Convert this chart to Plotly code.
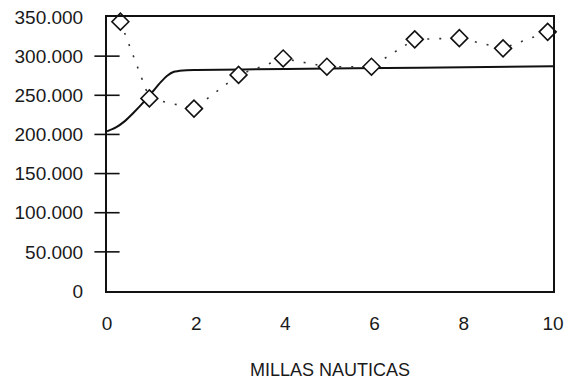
import plotly.graph_objects as go

# Observed values (diamonds, dotted)
obs_x = [0.3, 0.95, 1.95, 2.95, 3.95, 4.93, 5.93, 6.9, 7.9, 8.88, 9.88]
obs_y = [344000, 246000, 233000, 276000, 297000, 286500, 286500, 321500, 323000, 310000, 331000]

# Fitted curve (solid)
fit_x = [0, 0.2, 0.4, 0.6, 0.8, 1.0, 1.2, 1.35, 1.5, 1.7, 2.0, 4, 7, 10]
fit_y = [204000, 209000, 217000, 228000, 240000, 253000, 266500, 275000, 280000, 281800, 282300,
         283500, 285300, 287000]

# Axis ticks
y_ticks = [0, 50000, 100000, 150000, 200000, 250000, 300000, 350000]
y_cross = [50000, 100000, 150000, 200000, 250000, 300000]
x_ticks = [0, 2, 4, 6, 8, 10]

fig = go.Figure()

fig.add_trace(go.Scatter(
    x=fit_x, y=fit_y, mode="lines",
    line=dict(color="#111", width=2, shape="spline", smoothing=0.6),
    hoverinfo="skip", showlegend=False,
))

fig.add_trace(go.Scatter(
    x=obs_x, y=obs_y, mode="lines+markers",
    line=dict(color="#333", width=1.6, dash="2px,10px"),
    marker=dict(symbol="diamond", size=13, color="white",
                line=dict(color="#111", width=1.6)),
    cliponaxis=False, showlegend=False,
))

# Cross-shaped tick marks on the left axis
fig.add_trace(go.Scatter(
    x=[0] * len(y_cross), y=y_cross, mode="markers",
    marker=dict(symbol="line-ew-open", size=18, color="#111",
                line=dict(color="#111", width=1.6)),
    cliponaxis=False, hoverinfo="skip", showlegend=False,
))

font_family = "Liberation Sans, Arial, sans-serif"

fig.update_layout(
    width=565, height=380,
    margin=dict(l=107, r=12, t=17, b=89),
    paper_bgcolor="white", plot_bgcolor="white",
    separators=",.",
    font=dict(family=font_family, size=19, color="#1a1a1a"),
    xaxis=dict(
        range=[0, 10], tickvals=x_ticks, ticks="",
        showline=True, linecolor="#111", linewidth=2, mirror=True,
        showgrid=False, zeroline=False, automargin=False,
        ticklabelstandoff=14,
        title=dict(text="MILLAS NAUTICAS", font=dict(size=18), standoff=32),
    ),
    yaxis=dict(
        range=[0, 350000], tickvals=y_ticks, tickformat=",d", ticks="",
        showline=True, linecolor="#111", linewidth=2, mirror=True,
        showgrid=False, zeroline=False, automargin=False,
        ticklabelstandoff=18,
    ),
)

fig.write_html("out.html")
